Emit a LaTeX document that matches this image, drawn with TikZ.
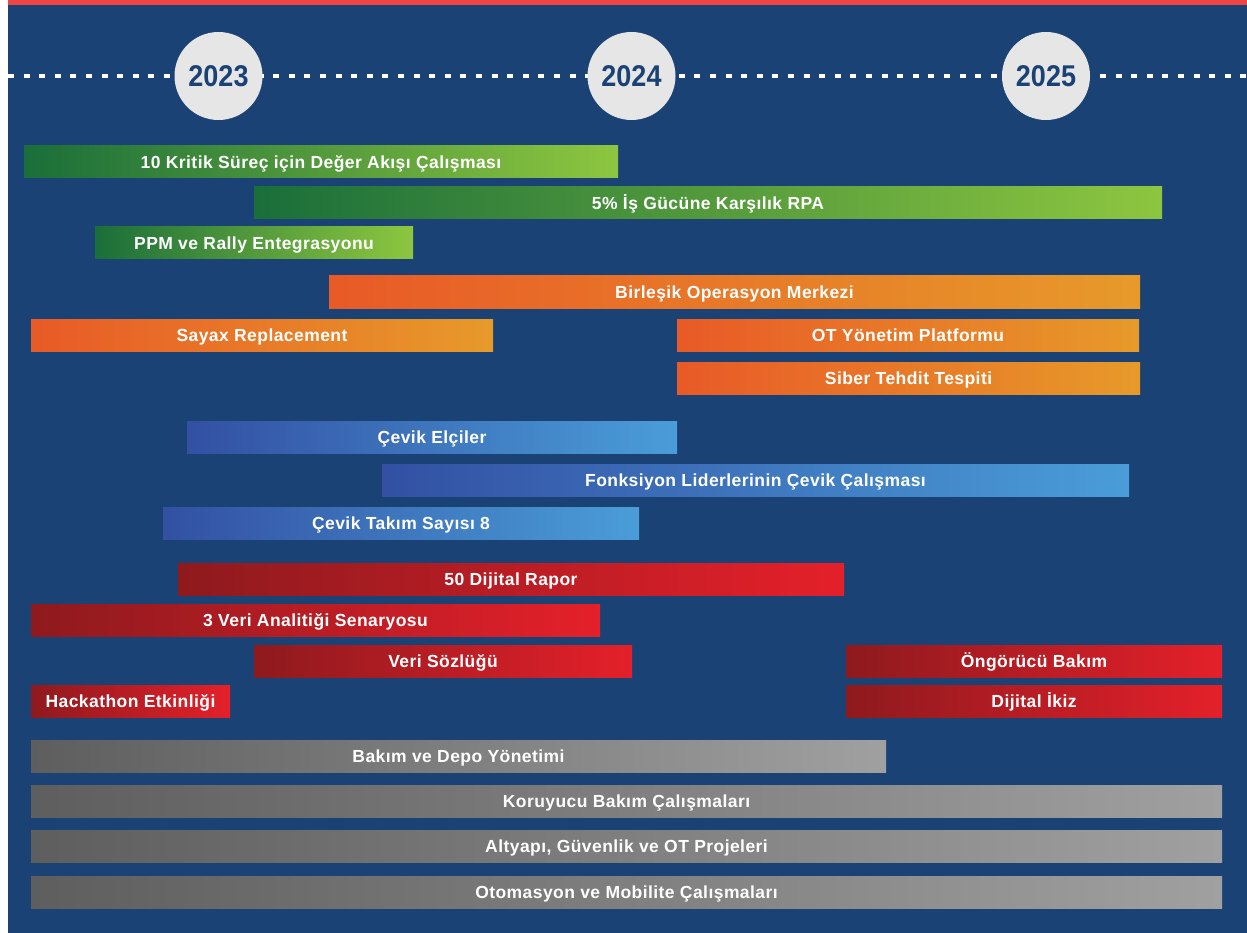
\documentclass[tikz,border=0pt]{standalone}
\usepackage{fontspec}
\setmainfont{Liberation Sans}
\newfontfamily\barfont{Liberation Sans}[LetterSpace=2.5]
\newfontfamily\yearfont{Liberation Sans}[FakeStretch=0.9]
\usepackage{tikz}
\usetikzlibrary{positioning}

\definecolor{navy}{HTML}{1B4275}
\definecolor{topred}{HTML}{EF4444}
\definecolor{bubble}{HTML}{E6E6E6}
\definecolor{gdark}{HTML}{1A6E3A}
\definecolor{glight}{HTML}{8DC63F}
\definecolor{odark}{HTML}{E85A27}
\definecolor{olight}{HTML}{E79A2A}
\definecolor{bdark}{HTML}{3350A3}
\definecolor{blight}{HTML}{4A9DD8}
\definecolor{rdark}{HTML}{8E1A1E}
\definecolor{rlight}{HTML}{E4202A}
\definecolor{ydark}{HTML}{5E5E5E}
\definecolor{ylight}{HTML}{A0A0A0}

\begin{document}
\begin{tikzpicture}[
    x=1pt, y=-1pt,
    bar/.style={rectangle, minimum height=32pt, inner sep=0pt, text=white,
      text height=12.5pt, text depth=0pt,
      font=\barfont\bfseries\fontsize{17.5}{20}\selectfont},
    greenbar/.style={bar, left color=gdark, right color=glight},
    orangebar/.style={bar, left color=odark, right color=olight},
    bluebar/.style={bar, left color=bdark, right color=blight},
    redbar/.style={bar, left color=rdark, right color=rlight},
    graybar/.style={bar, left color=ydark, right color=ylight},
    yearbubble/.style={circle, fill=bubble, minimum size=88pt, inner sep=0pt, text=navy,
      font=\yearfont\bfseries\fontsize{30}{30}\selectfont},
    timeline/.style={white, line width=4.5pt, dash pattern=on 6pt off 9.6pt},
  ]
  \useasboundingbox (0,0) rectangle (1247,933);
  \fill[navy] (8,0) rectangle (1247,933);
  \fill[topred] (8,0) rectangle (1247,5);

  \coordinate (tlstart) at (8,76);
  \coordinate (tlend)   at (1247,76);
  \draw[timeline] (tlstart) -- (tlend);

  \node[yearbubble] (y2023) at (218.5,76) {2023};
  \node[yearbubble] (y2024) at (631.5,76) {2024};
  \node[yearbubble] (y2025) at (1046,76)  {2025};

  \node[greenbar, minimum width=594pt]  (vsm)      at (321,162)    {10 Kritik Süreç için Değer Akışı Çalışması};
  \node[greenbar, minimum width=908pt]  (rpa)      at (708,203)    {5\% İş Gücüne Karşılık RPA};
  \node[greenbar, minimum width=318pt]  (ppm)      at (254,243)    {PPM ve Rally Entegrasyonu};

  \node[orangebar, minimum width=811pt] (opmerkez) at (734.5,292)  {Birleşik Operasyon Merkezi};
  \node[orangebar, minimum width=462pt] (sayax)    at (262,335)    {Sayax Replacement};
  \node[orangebar, minimum width=462pt] (otplat)   at (908,335)    {OT Yönetim Platformu};
  \node[orangebar, minimum width=463pt] (siber)    at (908.5,378)  {Siber Tehdit Tespiti};

  \node[bluebar, minimum width=490pt]   (elciler)  at (432,437)    {Çevik Elçiler};
  \node[bluebar, minimum width=747pt]   (liderler) at (755.5,480.5) {Fonksiyon Liderlerinin Çevik Çalışması};
  \node[bluebar, minimum width=476pt]   (takim)    at (401,523)    {Çevik Takım Sayısı 8};

  \node[redbar, minimum width=666pt]    (rapor)    at (511,579)    {50 Dijital Rapor};
  \node[redbar, minimum width=569pt]    (senaryo)  at (315.5,620)  {3 Veri Analitiği Senaryosu};
  \node[redbar, minimum width=378pt]    (sozluk)   at (443,661.5)  {Veri Sözlüğü};
  \node[redbar, minimum width=376pt]    (ongoru)   at (1034,661.5) {Öngörücü Bakım};
  \node[redbar, minimum width=199pt]    (hackathon) at (130.5,701) {Hackathon Etkinliği};
  \node[redbar, minimum width=376pt]    (ikiz)     at (1034,701)   {Dijital İkiz};

  \node[graybar, minimum width=855pt]   (depo)     at (458.5,756)  {Bakım ve Depo Yönetimi};
  \node[graybar, minimum width=1191pt]  (koruyucu) at (626.5,801)  {Koruyucu Bakım Çalışmaları};
  \node[graybar, minimum width=1191pt]  (altyapi)  at (626.5,846)  {Altyapı, Güvenlik ve OT Projeleri};
  \node[graybar, minimum width=1191pt]  (otomasyon) at (626.5,892) {Otomasyon ve Mobilite Çalışmaları};
\end{tikzpicture}
\end{document}
